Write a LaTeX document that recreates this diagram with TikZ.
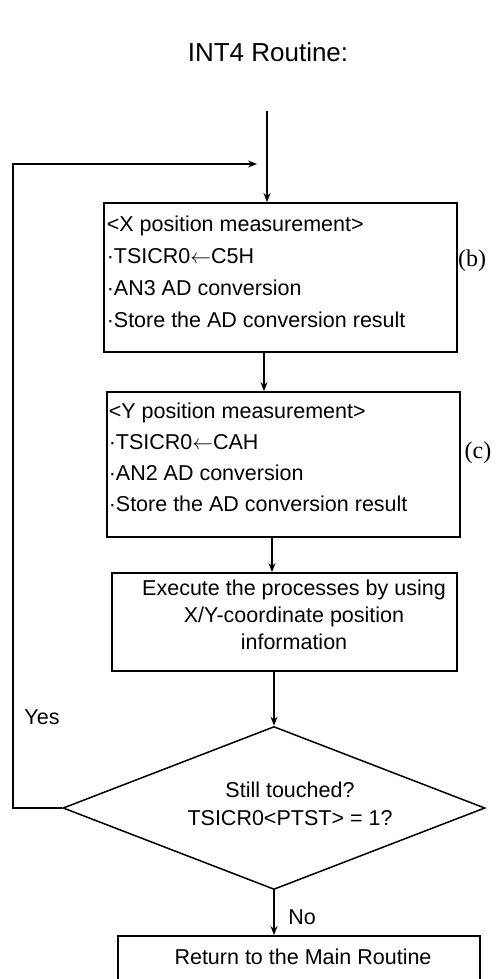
\documentclass[tikz,border=0pt]{standalone}
\usepackage{fontspec}
\setsansfont{Liberation Sans}
\newfontfamily\lblfont{Liberation Serif}
\usetikzlibrary{arrows.meta,shapes.geometric}
\newcommand{\larr}{\ensuremath{\leftarrow}}
\begin{document}
\begin{tikzpicture}[x=1pt,y=-1pt,
  line width=1.5pt,
  >={Stealth[length=9pt,width=7pt]},
  box/.style={draw, rectangle, inner sep=0pt, line width=1.8pt},
  txt/.style={inner sep=0pt, font=\sffamily\fontsize{21.5}{25}\selectfont},
  ln/.style={txt, anchor=base west},
  lbl/.style={inner sep=0pt, font=\lblfont\fontsize{24}{28}\selectfont},
  arr/.style={->, line width=1.5pt}]
\useasboundingbox (0,0) rectangle (499,979);
\clip (0,0) rectangle (499,979);

% title
\node[txt, font=\sffamily\fontsize{26}{30}\selectfont] (title) at (268,52) {INT4 Routine:};
\coordinate (start) at (267,111);

% X box
\node[box, minimum width=353pt, minimum height=149pt] (bx) at (280.5,277.5) {};
\node[ln] (x1) at (106,231) {<X position measurement>};
\node[ln] (x2) at (106,263) {·TSICR0\larr C5H};
\node[ln] (x3) at (106,295) {·AN3 AD conversion};
\node[ln] (x4) at (106,327) {·Store the AD conversion result};
\node[lbl] (b) at (472,261) {(b)};

% Y box
\node[box, minimum width=353pt, minimum height=145pt] (by) at (283.5,464.5) {};
\node[ln] (y1) at (108,418) {<Y position measurement>};
\node[ln] (y2) at (108,449) {·TSICR0\larr CAH};
\node[ln] (y3) at (108,480) {·AN2 AD conversion};
\node[ln] (y4) at (108,511) {·Store the AD conversion result};
\node[lbl] (c) at (478,453) {(c)};

% execute box
\node[box, minimum width=345pt, minimum height=98pt] (ex) at (284.5,622) {};
\node[txt, font=\sffamily\fontsize{21.5}{27}\selectfont, align=center] (ext) at (294,615) {Execute the processes by using\\X/Y-coordinate position\\information};

% diamond
\node[draw, diamond, inner sep=0pt, minimum width=422pt, minimum height=163pt, line width=1.5pt] (dia) at (274,808) {};
\node[txt] (d1) at (290,790) {Still touched?};
\node[txt] (d2) at (290,818) {TSICR0<PTST> = 1?};

% return box
\node[box, minimum width=362pt, minimum height=70pt] (ret) at (299,971) {};
\node[txt] (rt) at (303,957) {Return to the Main Routine};

% labels
\node[txt] (yes) at (42,717) {Yes};
\node[txt] (no) at (302,917) {No};

% connectors
\coordinate (lc) at (13,164);
\coordinate (le) at (257,164);
\draw[arr] (start) -- (bx.north -| start);
\draw[arr] ([xshift=-16.5pt]bx.south) -- ([xshift=-16.5pt]bx.south |- by.north);
\draw[arr] ([xshift=-11.5pt]by.south) -- ([xshift=-11.5pt]by.south |- ex.north);
\draw[arr] (ex.south -| dia.north) -- (dia.north);
\draw[arr] (dia.south) -- (dia.south |- ret.north);
\draw[arr] (dia.west) -- (dia.west -| lc) -- (lc) -- (le);
\end{tikzpicture}
\end{document}
